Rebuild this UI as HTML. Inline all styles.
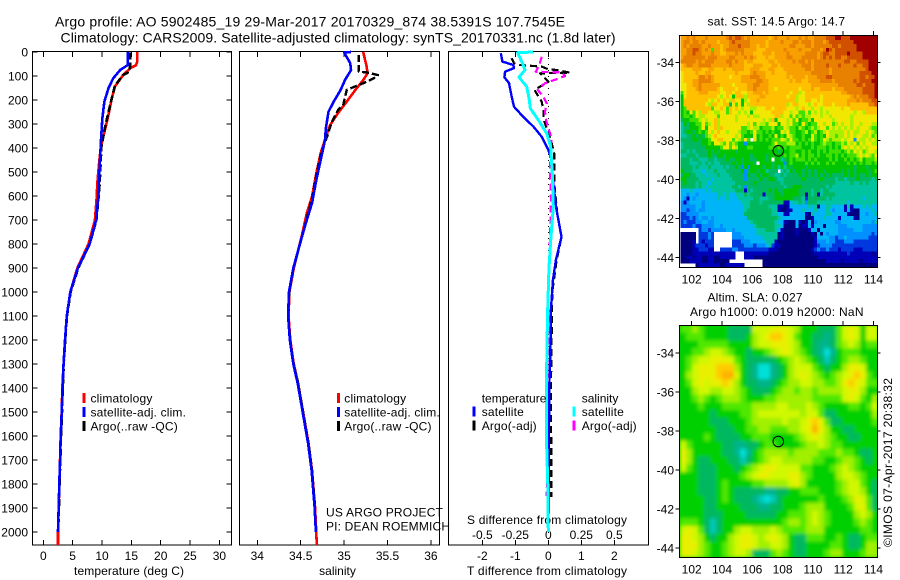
<!DOCTYPE html>
<html lang="en">
<head>
<meta charset="utf-8">
<title>Argo profile</title>
<style>
html,body{margin:0;padding:0;background:#fff;width:900px;height:580px;overflow:hidden}
svg{display:block}
text{font-family:"Liberation Sans",sans-serif;font-size:12px;fill:#000}
.t14{font-size:14px}
</style>
</head>
<body>
<svg id="chart" xmlns="http://www.w3.org/2000/svg" width="900" height="580" viewBox="0 0 900 580">
  <rect x="0" y="0" width="900" height="580" fill="#fff"/>
  <defs>
    <clipPath id="slaClip"><rect x="680" y="325" width="197.5" height="232"/></clipPath>
    <filter id="slaBlur" filterUnits="userSpaceOnUse" x="660" y="305" width="240" height="272"><feGaussianBlur stdDeviation="1.8"/></filter>
  </defs>
  <text class="t14" x="55" y="26.5" textLength="510" lengthAdjust="spacing">Argo profile: AO 5902485_19 29-Mar-2017 20170329_874 38.5391S 107.7545E</text>
  <text class="t14" x="60.5" y="42.5" textLength="555" lengthAdjust="spacing">Climatology: CARS2009. Satellite-adjusted climatology: synTS_20170331.nc (1.8d later)</text>

  <text x="74" y="575" textLength="110" lengthAdjust="spacing">temperature (deg C)</text>
  <text x="337.5" y="575" text-anchor="middle">salinity</text>
  <text x="467" y="575" textLength="160" lengthAdjust="spacing">T difference from climatology</text>
  <text x="467" y="524" textLength="160" lengthAdjust="spacing">S difference from climatology</text>
  <text x="326" y="516.5" textLength="117" lengthAdjust="spacing">US ARGO PROJECT</text>
  <text x="326" y="530.5" textLength="124" lengthAdjust="spacing">PI: DEAN ROEMMICH</text>

  <text x="707.5" y="25.5" textLength="137.5" lengthAdjust="spacing">sat. SST: 14.5 Argo: 14.7</text>
  <text x="707.5" y="301.5" textLength="95" lengthAdjust="spacing">Altim. SLA: 0.027</text>
  <text x="690" y="316" textLength="173.5" lengthAdjust="spacing">Argo h1000: 0.019 h2000: NaN</text>
  <text transform="translate(892,547) rotate(-90)" textLength="169" lengthAdjust="spacing">©IMOS 07-Apr-2017 20:38:32</text>
</svg>
<script>
// ---------- chart data ----------
const depthTicks = [0,100,200,300,400,500,600,700,800,900,1000,1100,1200,1300,1400,1500,1600,1700,1800,1900,2000];
const tempTicks = [0,5,10,15,20,25,30];
const salTicks = [34,34.5,35,35.5,36];
const salTickLabels = ['34','34.5','35','35.5','36'];
const tDiffTicks = [-2,-1,0,1,2];
const sDiffTicks = [-0.5,-0.25,0,0.25,0.5];
const sDiffTickLabels = ['-0.5','-0.25','0','0.25','0.5'];
const lonTicks = [102,104,106,108,110,112,114];
const latTicks = [-34,-36,-38,-40,-42,-44];

const tClimDepth = [0,40,55,68,96,144,200,262,325,395,464,547,603,700,800,900,1000,1100,1200,1300,1400,1500,1600,1700,1800,1900,2000,2054];
const tClimValue = [16,16,15.8,14.8,13.6,12.2,11.6,11.1,10.5,9.8,9.5,9.2,9.1,8.8,7.7,5.8,4.6,4.0,3.7,3.45,3.24,3.13,2.96,2.85,2.73,2.62,2.5,2.5];
const tArgoDepth = [2,55,82,96,140,190,262,315,395,547,603,700,800,900,1000,1100,1200,1300,1400,1500,1600,1700,1800,1900,1960];
const tArgoValue = [14.8,14.8,14.65,13.6,12.2,11.7,11,10.5,9.9,9.6,9.42,9.05,7.9,5.95,4.65,4.03,3.73,3.48,3.32,3.18,3.02,2.9,2.76,2.66,2.58];
const tSatDepth = [0,54,75,110,151,207,278,367,450,603,700,800,900,1000,1100,1200,1300,1400,1500,1600,1700,1800,1900,2000];
const tSatValue = [14.4,14.4,13.1,11.9,11.1,10.4,10.05,9.83,9.66,9.37,9.0,7.9,5.9,4.6,4.0,3.7,3.45,3.28,3.14,2.97,2.86,2.72,2.62,2.5];

const sClimDepth = [0,61,89,117,158,207,255,304,353,422,505,603,672,770,900,1000,1100,1200,1300,1380,1505,1630,1741,1895,2005,2054];
const sClimValue = [35.22,35.26,35.27,35.22,35.13,35.03,34.93,34.84,34.79,34.73,34.68,34.63,34.57,34.51,34.42,34.37,34.36,34.38,34.42,34.47,34.53,34.59,34.63,34.665,34.68,34.685];
const sArgoDepth = [12,82,85,96,110,130,158,221,242,290,346,422,505,603,770,900,1000,1100,1200,1300,1380,1505,1630,1741,1895];
const sArgoValue = [35.17,35.17,35.26,35.39,35.34,35.22,35.03,34.99,34.93,34.86,34.81,34.735,34.685,34.635,34.515,34.418,34.368,34.358,34.378,34.418,34.47,34.53,34.59,34.63,34.665];
const sSatDepth = [0,2,46,75,117,158,207,249,318,367,450,533,630,700,775,900,1000,1100,1200,1300,1380,1505,1630,1741,1895,2000];
const sSatValue = [35.08,35.0,35.07,35.08,35.01,34.96,34.88,34.82,34.79,34.78,34.73,34.68,34.63,34.57,34.51,34.415,34.365,34.355,34.375,34.415,34.465,34.525,34.585,34.625,34.66,34.675];

const dtSatDepth = [5,40,54,67,82,105,130,186,228,270,311,353,408,450,547,658,770,867,950,1075,1200,1400,1600,1800,2000];
const dtSatValue = [-1.44,-1.39,-1.06,-1.04,-1.31,-1.33,-1.19,-1.11,-1.04,-0.76,-0.45,-0.2,0,0.1,0.15,0.25,0.4,0.23,0.14,0.08,0.07,0.03,0.02,0.02,0.0];
const dtArgoDepth = [26,47,54,61,72,75,86,89,124,158,207,242,275,318,367,422,483,547,672,770,870,1000,1200,1400,1700,1854];
const dtArgoValue = [-1.11,-1.04,-0.86,-0.2,0,0.25,0.66,-0.25,0,-0.42,-0.2,-0.15,-0.15,-0.05,0.08,0.18,0.18,0.18,0.27,0.4,0.25,0.12,0.1,0.08,0.09,0.09];
const dsSatDepth = [0,3,54,75,105,144,192,235,283,339,395,505,645,770,900,1100,1300,1500,1650,1800,2000];
const dsSatValue = [-0.114,-0.232,-0.19,-0.177,-0.222,-0.164,-0.146,-0.136,-0.076,-0.012,0.018,0.03,0.038,0.02,0.005,-0.006,-0.012,-0.012,-0.012,-0.004,0];
const dsArgoDepth = [20,54,82,85,100,113,130,158,186,214,249,283,318,360,408,505,617,770,1000,1300,1600,1850];
const dsArgoValue = [-0.05,-0.068,-0.095,0.1,0.127,0.064,-0.025,-0.08,-0.038,-0.012,-0.025,-0.017,0,0.026,0.013,0.013,0.02,0.013,0,0.01,-0.005,-0.012];

const sstPalette = ['#00007f','#0000b8','#0038e0','#0090ff','#00b4f8','#00c4a0','#00b860','#00c400','#40e000','#a8f000','#f0e800','#ffc000','#f8a000','#e88000','#d05000','#a00000'];
const sstRows = [
"ccdcdcccdcccc ccdedeedcdccc cccbcdcccdccc dcdccddddeeef feeefffffffff",
"cddcddcdccccb cccdedddddccc ccbccccdcccdd cdddcdddcdeee eeeeeffffffff",
"cdcddddccdccc bccdddedddccb ccbcccccccddc ccddcddddddee deeeeefffffff",
"ccddeedcdc8cc bcddddddccccb bbccccccdcccc dcccdddcdfede eeeeeefffffff",
"ccddeddcccdcc bbcccdcdcccbb bcccbccccdccc ccddddcdeedde eeefeeeefffff",
"cdddddddcdddc cccddcccdcdcb bbcbbccccddcc cdddddcdedede eddeeeeefffff",
"dddddcdcdddcc ccddcdccbccbb bbbccbcccccdc ddcdcdddddddd ddeeddeeeefff",
"bcddccddddccc cccdccccbbbcc cbbbccbcccccc cdddcddddeddd eddddeddeefff",
"bbbbcccbbccbb bcbbccccbbccc bbbccbbbccccc ccddcdddddcdd dddddddddefff",
"abbbbcbbccbbb bbbbbcbbbbcdc ccbbcbbbbcccc ccccddddddcdd dddddddeeeeff",
"abbbbbddcdcbb bbbabbbcccddd ccbbbbbbbcbcc ccbcccdddeedd dddddddeedeef",
"abbbccddddcbb bbbbbbbcccccd dccbbbbbbbcbc cbbccccddddcd dddddedeeeeff",
"aabbccdcccccc bbbbabbbbccdd cccbbbbbbbbbb bbbbccccccccc ddddddeedeeef",
"aabbbcdcccccb abbbbabbbccdc cccbbabbbbbbb abbbcbbccccbc ccddddddeeeef",
"8abbbbcccbbbb aabbabbaabbcc cbcbbbbbbbabb 9abbbbbbbbbbb bccdddddeeeef",
"7abbbbbbbbbba 9aba7bbb9bbbb ccbbbbbbbabb9 aabbbbbabbbbb bbbbcdcdddeef",
"7bbbbbbbba9ab aba9baa79abbc bbbbbbbbbbbb9 aabbaababbbbb bbbcccdcdddee",
"7bbbbbbba9bba abb6a8a7a9bbb bbbbbbbbb9abb aaa9abaabbbab bbbcbbbbbbdde",
"78bbbbbbbb8aa ba8baba9aa99a aabbabbbbaaa9 abaa9aa9aaaaa abaabbbbbbbbb",
"787a8a9bbaa99 aa8baa9a9a7aa aaaabbbbaa9aa 88a8a9a9a9aaa aaaaa9aa9bbbb",
"78878a99aaaa8 aaaaa9aaa9a99 aaaaabb9aa8a8 9899aaa9aa9aa aaaa9aaaaaaaa",
"6778889a9aab9 aaaaa9aaaaaaa a9a9b7aaa9a8a 78897aaaaaa9a aaaa9aaaaaaaa",
"5767788a89ab9 aaaaaaaaa9a8a 998aaa7aa9a88 7a8788aa9aa89 a9aa9aa9aaa99",
"5667778a7aab9 baaaaaa889a9 9788897 88a988 79878989aa8a9 a9a9a9a9aaa98",
"567767878a9ab aa9aaa98878a8 8787877a9a887 789789789a999 99a9a99aa9a98",
"5566767689aba aaaaa9a8777a7 87787a787a987 7877a8787a998 99a9a9aa99a89",
"6666776778aab baaa8a98a8.a7 8787888a98a88 7878a878a9899 9a9aa3a99a9a9",
"56666667787a a98a898773777 777778a888999 7878787789887 8898a9a8a9aa9",
"5666666677777 8aa8a97778877 7778878787888 8777878887878 79a9a9a9a9aaa",
"6656566667676 7777767777777 7777776777887 7878778787888 87898a9a89aa9",
"5566656667667 7677777777677 7767777787889 7878878778878 7878889a9a98a",
"6665665556656 6676677677667 7767.77567878 8878787777878 7787878978889",
"6665556565655 666676767776. 7777677737877 7787878778787 7778787878878",
"6666565556555 5656676373777 7677675757677 7767777777777 7777767776777",
"7666555455565 5566666736776 775666.565767 7676767767777 7676767777678",
"6776655545556 5556666637667 6776655656666 7676767676766 6676767667677",
"7766665555455 5555666636666 7667765566666 6766666766665 6656667666656",
"6766656554555 5555566666676 6666666566666 6666666666665 5555655656555",
"6666656545555 5555665636666 6666666656677 7666666665655 5555555555555",
"4445444454555 5555566616566 6667676677777 6666566566555 5555555555555",
"4434434444445 5454455565666 6166677677777 6616561566665 5555555555555",
"4314344444445 4454445555566 5556677777766 6526666665655 5555555545555",
"3134444344444 4444444555666 5666666611455 6536665555555 5554555555555",
"3333344344444 4444444455666 6665551101444 4445450445544 4415144454544",
"3323343344444 4444444456666 6666551001144 4544454445434 4414100444454",
"2233334444444 4444444466666 6666554411444 4410544445544 4441000443445",
"2223234334344 4444444446666 6666665444444 4400144454444 1444410444444",
"2322233443344 4444444444566 6666654410004 1014034444443 3444444444435",
"2222322333344 3444444444456 6666655400004 0114144404444 3334444433333",
"......2332333 3344344444445 5566654100001 0001440444444 3333344433333",
"00000.22232.. ....333444445 5555550100001 0000104043444 3333333333323",
"00000.22232.. ....333344444 4555550100000 0000014444332 3343333333222",
"00001.21222.. ....222333444 4455510000000 0000013334332 2233322222222",
"00001222122.. ....222233323 3345211000000 0000012333322 2222222222222",
"00001122211.. 2222332222222 2221110000000 0000123223222 1222211122222",
"0000111111111 11111...11111 1110000000000 0000011111111 1112111111101",
"0011011001100 11111...11100 0000000000000 0000001111111 1111111111111",
"0001111001100 000.......... .000000000000 0000000001111 1011111011111",
".....01111111 00111111..... .000000000000 0000000000000 0000000000000"
];

const slaPalette = ['#00e0d8','#00c8b8','#00b48c','#00b860','#00d000','#50e800','#a0f000','#d0f800','#e8f000','#ffcc00','#ffb000'];
const slaRows = [
"556544443333 77788876 444333 5787477",
"455544443334 67899875 443323 5787477",
"444555554444 67788876 443223 5676455",
"445567765443 44567876 543202 4555444",
"456778887543 33334567 654313 4566544",
"457888999643 20023467 775434 4688744",
"46788 89aa743 20023467 876545 6789854",
"457878898643 32234566 776655 6898755",
"446776677654 33345665 665666 6788644",
"445654566654 44556666 665555 5787546",
"444544455555 66667766 676544 4455457",
"444443444455 67777777 677533 4444446",
"444443334445 66666766 789853 3444445",
"444444333445 56655566 78a864 4334444",
"444454333344 55544445 678765 4433444",
"754444433223 34554444 566765 5444444",
"864444433202 45666656 666555 6554334",
"864334443313 45677666 665544 5665434",
"754333444345 67887777 554445 6765444",
"444333444456 78877788 654444 6776544",
"444333454444 55666678 644444 5677543",
"444333454333 33223344 555444 5677643",
"444433454333 21013444 444544 4568753",
"444433444433 32233444 566644 4457853",
"444433344443 33334455 567654 4446764",
"555431344444 44444566 567654 4445654",
"787531344677 66676555 566644 4444554",
"887643446788 76787643 355544 5433455",
"888654456788 76677643 344445 5433466",
"887654456776 33356543 344456 6444566"
];

// ---------- geometry + axis functions ----------
const NS = 'http://www.w3.org/2000/svg';
const svg = document.getElementById('chart');
const plotTop = 52, plotBottom = 545;
const yD = d => plotTop + 0.24 * d;
const xTemp = v => 43.3 + 5.87 * v;
const xSal = v => 257.3 + 86.8 * (v - 34);
const xDT = v => 548.3 + 33 * v;
const xDS = v => 548.3 + 132 * v;
const xLon = v => 691.7 + 15.15 * (v - 102);
const ySst = v => 62.3 + 19.5 * (-34 - v);
const ySla = v => 353 + 19.5 * (-34 - v);

function add(tag, attrs, parent) {
  const el = document.createElementNS(NS, tag);
  for (const k in attrs) el.setAttribute(k, attrs[k]);
  (parent || svg).appendChild(el);
  return el;
}
function label(txt, x, y, anchor) {
  const el = add('text', {x: x, y: y, 'text-anchor': anchor});
  el.textContent = txt;
  return el;
}
function line(x1, y1, x2, y2) {
  return add('line', {x1: x1, y1: y1, x2: x2, y2: y2, stroke: '#000', 'stroke-width': 1, 'shape-rendering': 'crispEdges'});
}
function profilePath(depths, values, xf, color, width, dash) {
  const pts = depths.map((d, i) => xf(values[i]).toFixed(2) + ',' + yD(d).toFixed(2)).join(' ');
  const attrs = {points: pts, fill: 'none', stroke: color, 'stroke-width': width, 'shape-rendering': 'crispEdges', 'stroke-linejoin': 'round'};
  if (dash) attrs['stroke-dasharray'] = dash;
  return add('polyline', attrs);
}

// ---------- maps ----------
function drawSst() {
  const g = add('g', {});
  
  
  const cw = 197 / 65, ch = 231 / 59;
  sstRows.forEach((row, r) => {
    const chars = row.replace(/ /g, '');
    for (let c = 0; c < 65; c++) {
      const ch1 = chars[c] === undefined ? chars[chars.length - 1] : chars[c];
      if (ch1 === '.') continue;
      const cell = add('rect', {x: (680.5 + c * cw).toFixed(2), y: (36 + r * ch).toFixed(2), width: (cw + 0.3).toFixed(2), height: (ch + 0.3).toFixed(2), fill: sstPalette[parseInt(ch1, 16)], 'shape-rendering': 'crispEdges'}, g);
      
      
    }
  });
}
function drawSla() {
  const clip = add('g', {'clip-path': 'url(#slaClip)'});
  
  
  const base = add('rect', {x: 680, y: 325, width: 198, height: 232, fill: '#00d000'}, clip);
  
  
  const g = add('g', {filter: 'url(#slaBlur)'}, clip);
  const cw = 198 / 33, ch = 232 / 30;
  slaRows.forEach((row, r) => {
    const chars = row.replace(/ /g, '');
    for (let c = 0; c < 33; c++) {
      const ch1 = chars[c] === undefined ? chars[chars.length - 1] : chars[c];
      const cell = add('rect', {x: (680 + c * cw).toFixed(2), y: (325 + r * ch).toFixed(2), width: (cw + 0.5).toFixed(2), height: (ch + 0.5).toFixed(2), fill: slaPalette[parseInt(ch1, 16)]}, g);
      
      
    }
  });
}
drawSst();
drawSla();

function drawMapAxes(top, bottom, yf, prefix) {
  const frame = add('rect', {x: 679.5, y: top + 0.5, width: 198, height: bottom - top, fill: 'none', stroke: '#000', 'stroke-width': 1, 'shape-rendering': 'crispEdges'});
  
  
  lonTicks.forEach(v => {
    const t = line(xLon(v), top - 4, xLon(v), top);
    
    
    const l = label(String(v), xLon(v), bottom + 16.5, 'middle');
    
    
  });
  latTicks.forEach(v => {
    const t1 = line(675.5, yf(v), 679.5, yf(v));
    
    
    const t2 = line(877.5, yf(v), 880.5, yf(v));
    
    
    const l = label(String(v), 674, yf(v) + 4.5, 'end');
    
    
  });
}
drawMapAxes(35, 267, ySst, 'sst');
drawMapAxes(325, 557, ySla, 'sla');

const sstMarker = add('circle', {cx: 778.3, cy: ySst(-38.5391), r: 5.3, fill: 'none', stroke: '#000', 'stroke-width': 1});


const slaMarker = add('circle', {cx: 778.3, cy: ySla(-38.5391), r: 5.3, fill: 'none', stroke: '#000', 'stroke-width': 1});



// ---------- profile panels ----------
function drawFrame(left, right, name) {
  const frame = add('rect', {x: left, y: plotTop - 0.5, width: right - left, height: plotBottom - plotTop + 0.5, fill: 'none', stroke: '#000', 'stroke-width': 1, 'shape-rendering': 'crispEdges'});
  
  
}
function drawXTicks(ticks, labels, xf, prefix) {
  ticks.forEach((v, i) => {
    const a = line(xf(v), plotTop, xf(v), plotTop + 5);
    
    
    const b = line(xf(v), plotBottom - 5, xf(v), plotBottom);
    
    
    const l = label(labels[i], xf(v), 560, 'middle');
    
    
  });
}
function drawLegendEntry(barX, textX, y, color, txt, name) {
  const bar = add('rect', {x: barX - 1.5, y: y - 9.5, width: 3, height: 10, fill: color, 'shape-rendering': 'crispEdges'});
  
  
  const l = label(txt, textX, y, 'start');
  l.style.letterSpacing = '0.18px';
  
  
}

// temperature panel
drawFrame(32.5, 231.5, 'temperature-panel-frame');
drawXTicks(tempTicks, tempTicks.map(String), xTemp, 'temperature');
depthTicks.forEach(d => {
  const a = line(32.5, yD(d), 37.5, yD(d));
  
  
  const b = line(226.5, yD(d), 231.5, yD(d));
  
  
  const l = label(String(d), 28, yD(d) + 4.5, 'end');
  
  
});
const tClimLine = profilePath(tClimDepth, tClimValue, xTemp, '#ff0000', 2.6);


const tArgoLine = profilePath(tArgoDepth, tArgoValue, xTemp, '#000000', 2.6, '7 3');


const tSatLine = profilePath(tSatDepth, tSatValue, xTemp, '#0000ff', 2.6);


drawLegendEntry(84, 90.5, 402.5, '#ff0000', 'climatology', 'temperature-legend-climatology');
drawLegendEntry(84, 90.5, 416.5, '#0000ff', 'satellite-adj. clim.', 'temperature-legend-satellite');
drawLegendEntry(84, 90.5, 430.5, '#000000', 'Argo(..raw -QC)', 'temperature-legend-argo');

// salinity panel
drawFrame(239.5, 439.5, 'salinity-panel-frame');
drawXTicks(salTicks, salTickLabels, xSal, 'salinity');
const sClimLine = profilePath(sClimDepth, sClimValue, xSal, '#ff0000', 2.6);


const sArgoLine = profilePath(sArgoDepth, sArgoValue, xSal, '#000000', 2.4, '7 3');


const sSatLine = profilePath(sSatDepth, sSatValue, xSal, '#0000ff', 2.6);


drawLegendEntry(338.3, 344.3, 402.5, '#ff0000', 'climatology', 'salinity-legend-climatology');
drawLegendEntry(338.3, 344.3, 416.5, '#0000ff', 'satellite-adj. clim.', 'salinity-legend-satellite');
drawLegendEntry(338.3, 344.3, 430.5, '#000000', 'Argo(..raw -QC)', 'salinity-legend-argo');

// difference panel
drawFrame(448.5, 648.5, 'difference-panel-frame');
drawXTicks(tDiffTicks, tDiffTicks.map(String), xDT, 't-difference');
sDiffTicks.forEach((v, i) => {
  const l = label(sDiffTickLabels[i], xDS(v), 539, 'middle');
  
  
});
const zeroLine = add('line', {x1: xDT(0), y1: plotTop, x2: xDT(0), y2: plotBottom, stroke: '#000', 'stroke-width': 1, 'stroke-dasharray': '1 5', 'shape-rendering': 'crispEdges'});


const dtArgoLine = profilePath(dtArgoDepth, dtArgoValue, xDT, '#000000', 2.2, '7 4');


const dsArgoLine = profilePath(dsArgoDepth, dsArgoValue, xDS, '#ff00ff', 2.2, '7 4');


const dtSatLine = profilePath(dtSatDepth, dtSatValue, xDT, '#0000ff', 2.4);


const dsSatLine = profilePath(dsSatDepth, dsSatValue, xDS, '#00ffff', 3);



const tempHeading = label('temperature', 481.7, 402.5, 'start');


const salHeading = label('salinity', 581.7, 402.5, 'start');


drawLegendEntry(474, 481.7, 416, '#0000ff', 'satellite', 'difference-legend-t-satellite');
drawLegendEntry(474, 481.7, 430, '#000000', 'Argo(-adj)', 'difference-legend-t-argo');
drawLegendEntry(574, 581.7, 416, '#00ffff', 'satellite', 'difference-legend-s-satellite');
drawLegendEntry(574, 581.7, 430, '#ff00ff', 'Argo(-adj)', 'difference-legend-s-argo');
</script>
</body>
</html>
